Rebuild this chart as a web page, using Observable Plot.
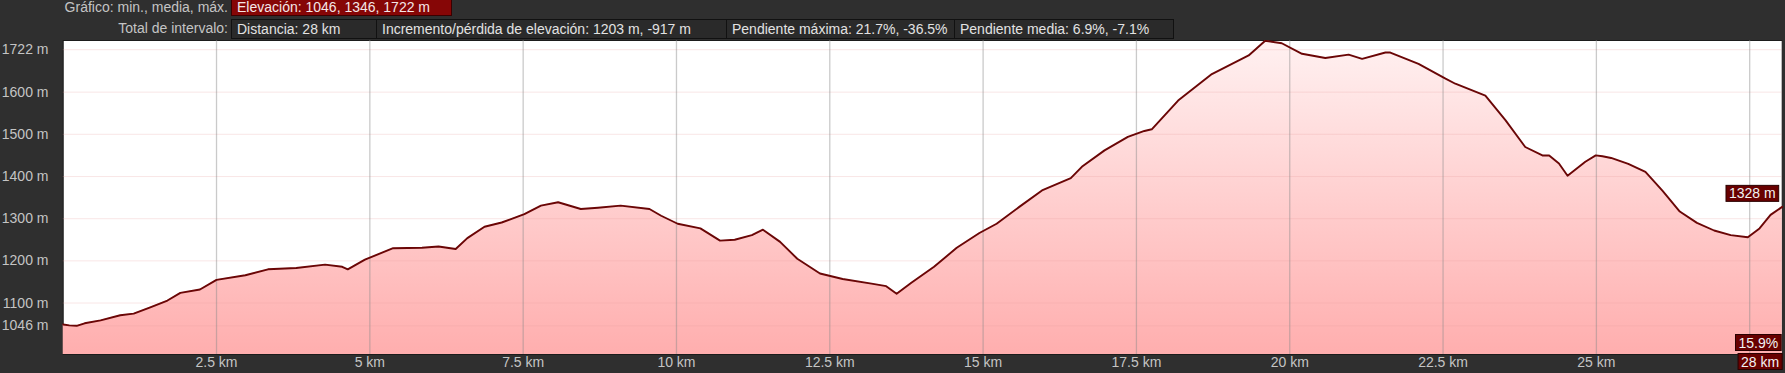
<!DOCTYPE html>
<html><head><meta charset="utf-8">
<script src="https://cdn.jsdelivr.net/npm/d3@7"></script>
<script src="https://cdn.jsdelivr.net/npm/@observablehq/plot@0.6"></script>
<style>
html,body{margin:0;padding:0;background:#2f2f2f;width:1785px;height:373px;overflow:hidden;font-family:"Liberation Sans",Arial,sans-serif;}
#header{position:relative;height:40px;width:1785px;font-size:14px;color:#c4c4c4;}
.lbl{position:absolute;left:0;width:228px;text-align:right;white-space:nowrap;}
.box{position:absolute;box-sizing:border-box;padding-left:5px;white-space:nowrap;color:#e2e2e2;}
#chart svg{display:block;}
</style></head><body>
<div id="header"></div>
<div id="chart"></div>
<script>
// ---- data ----
const distanceKm = [0,0.1,0.22,0.35,0.61,0.93,1.15,1.42,1.70,1.91,2.23,2.50,2.97,3.34,3.80,4.27,4.55,4.64,4.92,5.38,5.85,6.12,6.40,6.59,6.87,7.15,7.52,7.79,8.07,8.44,8.72,9.09,9.56,9.75,10.02,10.39,10.71,10.95,11.23,11.41,11.69,11.97,12.34,12.71,13.18,13.42,13.59,13.83,14.20,14.57,14.94,15.22,15.59,15.96,16.43,16.61,16.98,17.36,17.63,17.75,18.18,18.73,19.33,19.6,19.87,20.2,20.58,20.96,21.18,21.56,21.64,22.1,22.54,22.7,23.19,23.52,23.84,24.12,24.23,24.39,24.53,24.82,24.99,25.1,25.24,25.52,25.80,26.08,26.36,26.64,26.92,27.19,27.47,27.66,27.84,28.03];
const elevationM = [1049,1047,1046,1052,1059,1071,1075,1090,1106,1124,1132,1155,1166,1180,1183,1191,1186,1180,1203,1230,1231,1234,1228,1254,1281,1291,1311,1331,1339,1323,1326,1331,1323,1307,1288,1277,1248,1250,1261,1274,1245,1205,1170,1157,1146,1140,1122,1148,1186,1231,1266,1288,1328,1367,1396,1423,1462,1494,1508,1512,1580,1643,1687,1722,1716,1691,1681,1689,1679,1694,1694,1667,1632,1620,1592,1533,1470,1450,1450,1431,1402,1435,1450,1448,1444,1430,1411,1366,1317,1290,1272,1261,1256,1277,1309,1328];
const yTickValues = [1046,1100,1200,1300,1400,1500,1600];
const yMaxTick = [1722];
const xTickValues = [2.5,5,7.5,10,12.5,15,17.5,20,22.5,25];
const xGridValues = [2.5,5,7.5,10,12.5,15,17.5,20,22.5,25,27.5];
const xDomain = [0,28.03];
const yDomain = [978,1722.5];
const headerLabels = ["Gráfico: min., media, máx.","Total de intervalo:"];
const summaryRow1 = ["Elevación: 1046, 1346, 1722 m"];
const summaryRow2 = ["Distancia: 28 km","Incremento/pérdida de elevación: 1203 m, -917 m","Pendiente máxima: 21.7%, -36.5%","Pendiente media: 6.9%, -7.1%"];
const endElevation = [1328];
const endSlopeLabel = ["15.9%"];
const endDistanceLabel = ["28 km"];

// ---- header ----
const header = document.getElementById("header");
const row1Widths = [221], row2Widths = [145,350,228,219];
function addLabel(text, top, h){const d=document.createElement("div");d.className="lbl";d.textContent=text;d.style.top=top+"px";d.style.height=h+"px";d.style.lineHeight=h+"px";header.append(d);}
addLabel(headerLabels[0],0,15);
addLabel(headerLabels[1],19,19);
let x0=231;
summaryRow1.forEach((t,i)=>{const d=document.createElement("div");d.className="box";d.textContent=t;
 Object.assign(d.style,{left:x0+"px",top:"0px",width:row1Widths[i]+"px",height:"16px",lineHeight:"15px",background:"#860606",border:"1px solid #3a0000",borderTop:"none",color:"#f4e6e6"});header.append(d);x0+=row1Widths[i];});
x0=231;
summaryRow2.forEach((t,i)=>{const d=document.createElement("div");d.className="box";d.textContent=t;
 Object.assign(d.style,{left:x0+"px",top:"19px",width:(row2Widths[i]+1)+"px",height:"20px",lineHeight:"18px",background:"#2a2a2a",border:"1px solid #111"});header.append(d);x0+=row2Widths[i];});

// ---- chart ----
const data = distanceKm.map((d,i)=>({km:d, ele:elevationM[i]}));
const gray = "#c4c4c4";
const fs = 14;
const chart = Plot.plot({
  width:1785, height:333,
  marginTop:0, marginBottom:19, marginLeft:62.7, marginRight:3.3,
  style:{background:"transparent", fontFamily:"'Liberation Sans', Arial, sans-serif", fontSize:"14px"},
  x:{domain:xDomain, axis:null},
  y:{domain:yDomain, axis:null},
  marks:[
    Plot.frame({fill:"white", stroke:"#1c1c1c"}),
    Plot.areaY(data,{x:"km", y1:yDomain[0], y2:"ele", fill:"url(#eleGrad)"}),
    Plot.ruleY(yTickValues,{stroke:"#e8a0a0", strokeOpacity:0.25}),
    Plot.ruleY(yMaxTick,{stroke:"#e8a0a0", strokeOpacity:0.25, dy:9}),
    Plot.ruleX(xGridValues,{stroke:"#8a8a8a", strokeOpacity:0.45, strokeWidth:1.3}),
    Plot.lineY(data,{x:"km", y:"ele", stroke:"#6a0606", strokeWidth:1.9}),
    Plot.text(yTickValues,{y:d=>d, frameAnchor:"left", dx:-14.7, textAnchor:"end", text:d=>`${d} m`, fill:gray, fontSize:fs}),
    Plot.text(yMaxTick,{y:d=>d, frameAnchor:"left", dx:-14.7, dy:9, textAnchor:"end", text:d=>`${d} m`, fill:gray, fontSize:fs}),
    Plot.text(xTickValues,{x:d=>d, frameAnchor:"bottom", dy:12, text:d=>`${d} km`, fill:gray, fontSize:fs}),
    Plot.text(endElevation,{x:xDomain[1], y:d=>d, dx:-6.5, dy:-13, textAnchor:"end", text:d=>`${d} m`, fill:"#f2f2f2", fontSize:fs}),
    Plot.text(endSlopeLabel,{x:xDomain[1], frameAnchor:"bottom", dx:-4, dy:-7, textAnchor:"end", text:d=>d, fill:"#f2f2f2", fontSize:fs}),
    Plot.text(endDistanceLabel,{x:xDomain[1], frameAnchor:"bottom", dx:-3, dy:12, textAnchor:"end", text:d=>d, fill:"#f2f2f2", fontSize:fs})
  ]
});
document.getElementById("chart").append(chart);
const ns="http://www.w3.org/2000/svg";
const defs=document.createElementNS(ns,"defs");
defs.innerHTML='<linearGradient id="eleGrad" x1="0" y1="0" x2="0" y2="1"><stop offset="0" stop-color="#fff1f1"/><stop offset="1" stop-color="#ffaeae"/></linearGradient>';
chart.insertBefore(defs, chart.firstChild);
const markerTexts = new Set([`${endElevation[0]} m`, endSlopeLabel[0], endDistanceLabel[0]]);
const svgBox = chart.getBoundingClientRect();
chart.querySelectorAll("text").forEach(t=>{
  if(!markerTexts.has(t.textContent.trim())) return;
  const b=t.getBoundingClientRect();
  const r=document.createElementNS(ns,"rect");
  r.setAttribute("x",b.left-svgBox.left-3);r.setAttribute("y",b.top-svgBox.top);
  r.setAttribute("width",b.width+6);r.setAttribute("height",b.height);
  r.setAttribute("fill","#680000");r.setAttribute("stroke","#2a0000");
  let top=t; while(top.parentNode && top.parentNode!==chart) top=top.parentNode;
  chart.insertBefore(r, top);
});
</script>
</body></html>
